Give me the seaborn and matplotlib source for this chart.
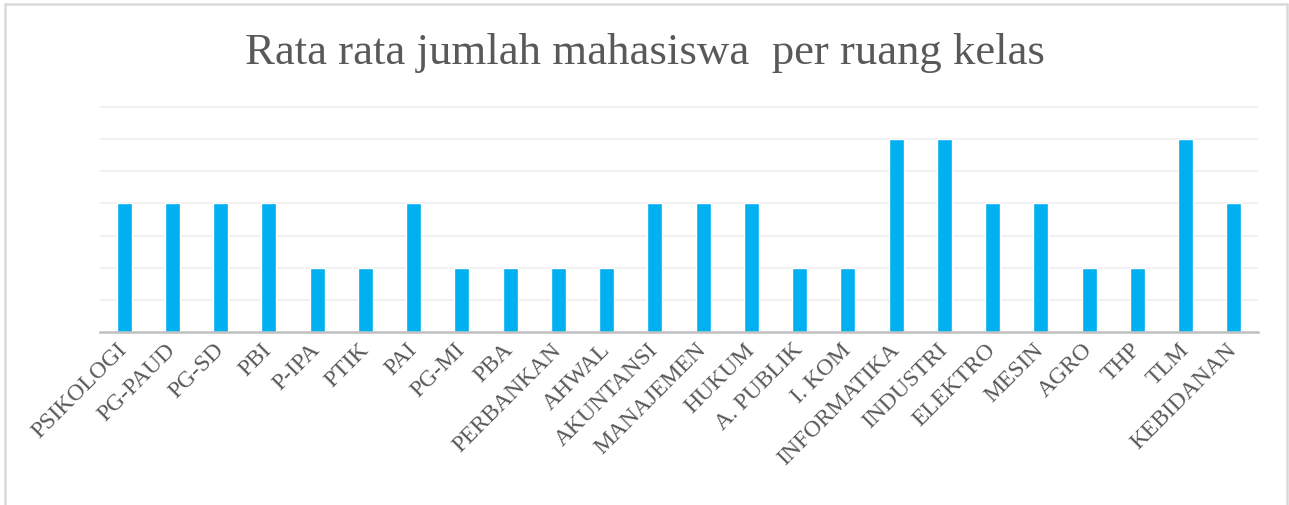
import pandas as pd
import seaborn as sns
import matplotlib.pyplot as plt
from matplotlib.lines import Line2D

# data (scale not shown, gridlines every 10)
prodi = ["PSIKOLOGI", "PG-PAUD", "PG-SD", "PBI", "P-IPA", "PTIK", "PAI", "PG-MI",
         "PBA", "PERBANKAN", "AHWAL", "AKUNTANSI", "MANAJEMEN", "HUKUM", "A. PUBLIK",
         "I. KOM", "INFORMATIKA", "INDUSTRI", "ELEKTRO", "MESIN", "AGRO", "THP",
         "TLM", "KEBIDANAN"]
rata_rata = [40, 40, 40, 40, 20, 20, 40, 20,
             20, 20, 20, 40, 40, 40, 20,
             20, 60, 60, 40, 40, 20, 20,
             60, 40]

df = pd.DataFrame({"prodi": prodi, "rata": rata_rata})

W, H = 1289, 506
FONT = "Liberation Serif"
GREY = "#595959"

sns.set_style("white")
plt.rcParams['font.family'] = [FONT, 'DejaVu Serif']

fig = plt.figure(figsize=(W / 100, H / 100), dpi=100)
ax = fig.add_axes([100 / W, 1 - 333 / H, 1158 / W, 228.2 / H])

sns.barplot(data=df, x="prodi", y="rata", color="#00B0F0", width=0.31,
            saturation=1, ax=ax, zorder=3)

ax.set_xlim(-0.5, len(prodi) - 0.5)
ax.set_ylim(0, 71)
ax.set_yticks(range(10, 71, 10))
ax.set_yticklabels([])
ax.tick_params(axis='y', length=0)
ax.tick_params(axis='x', length=0, pad=10)
ax.yaxis.grid(True, color="#efefef", lw=1.2, zorder=0)
ax.set_xlabel("")
ax.set_ylabel("")

for s in ["top", "right", "left"]:
    ax.spines[s].set_visible(False)
ax.spines["bottom"].set_color("#bfbfbf")
ax.spines["bottom"].set_linewidth(1.8)
ax.spines["bottom"].set_zorder(4)

# rotated labels, right end anchored under each bar
ax.set_xticks(range(len(prodi)))
ax.set_xticklabels(prodi, rotation=45, ha="right", va="center",
                   rotation_mode="anchor", fontsize=17, color=GREY, family=FONT)

fig.text(0.5, 1 - 53 / H, "Rata rata jumlah mahasiswa  per ruang kelas",
         ha="center", va="center", fontsize=32.2, color=GREY, family=FONT)

# chart-area border like the spreadsheet frame
bc = "#d9d9d9"
x0, x1, y0 = 5 / W, 1287 / W, 1 - 5 / H
fig.add_artist(Line2D([x0, x1], [y0, y0], color=bc, lw=1.8))
fig.add_artist(Line2D([x0, x0], [y0, 0], color=bc, lw=1.8))
fig.add_artist(Line2D([x1, x1], [y0, 0], color=bc, lw=1.8))

fig.savefig("out.png", dpi=100, facecolor="white")
